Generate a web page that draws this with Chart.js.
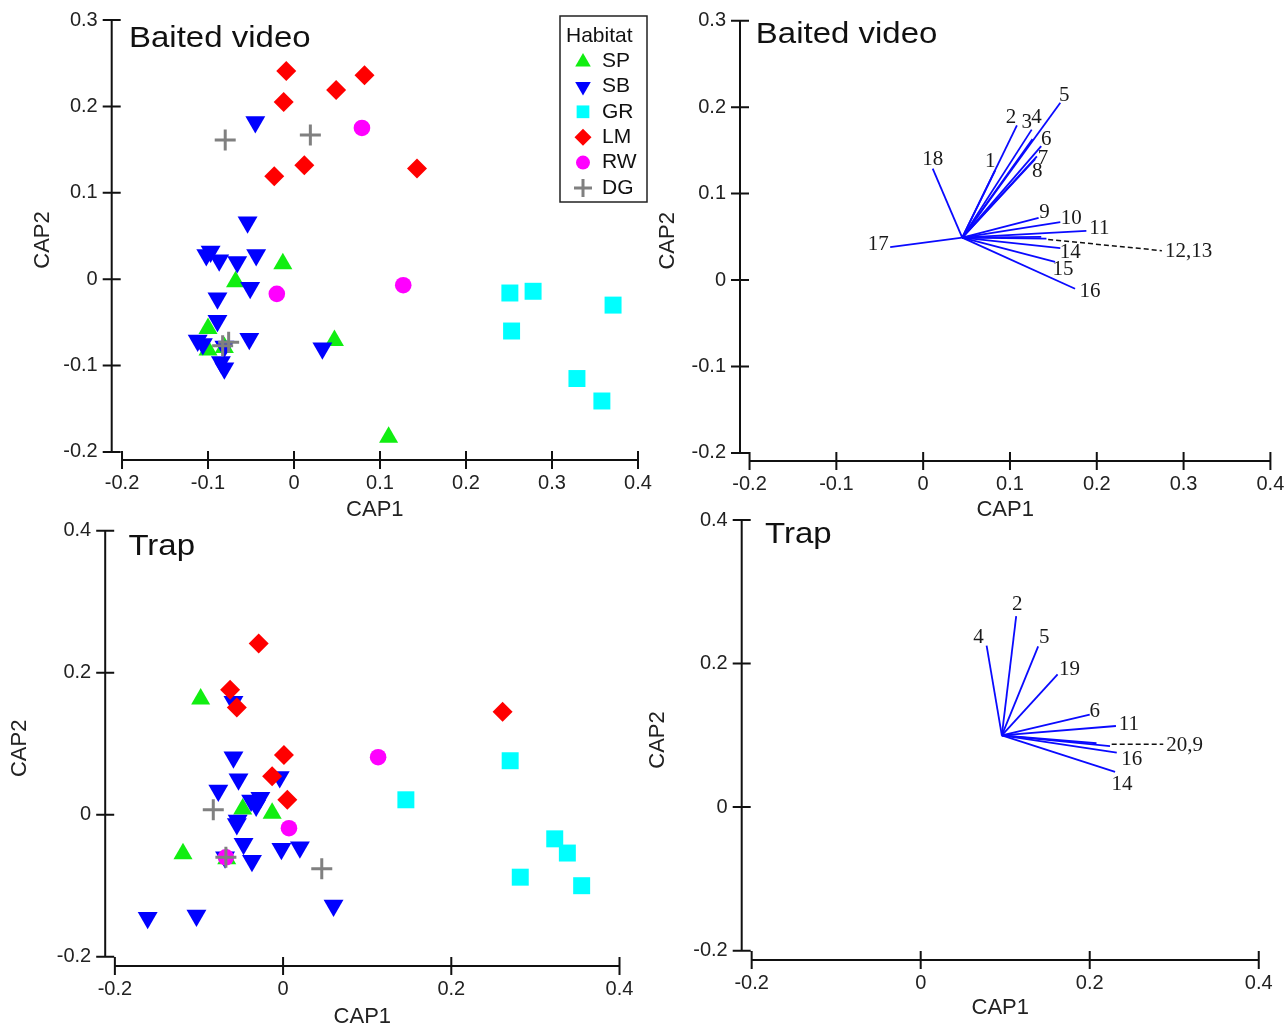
<!DOCTYPE html>
<html><head><meta charset="utf-8">
<script src="https://cdn.jsdelivr.net/npm/chart.js@4.4.1/dist/chart.umd.min.js"></script>
<style>
html,body{margin:0;padding:0;background:#fff;}
body{width:1288px;height:1027px;position:relative;overflow:hidden;}
canvas{position:absolute;}
</style></head><body>
<canvas id="c1"></canvas><canvas id="c2"></canvas><canvas id="c3"></canvas><canvas id="c4"></canvas>
<script>
// ---------------- DATA ----------------
const habitats = ['SP','SB','GR','LM','RW','DG'];

// Baited video – site scores (CAP1, CAP2)
const bvSP = [[-0.013,0.018],[-0.068,-0.003],[-0.100,-0.057],[-0.100,-0.082],[-0.081,-0.079],[0.047,-0.071],[0.110,-0.183]];
const bvSB = [[-0.045,0.182],[-0.054,0.066],[-0.097,0.032],[-0.102,0.028],[-0.087,0.022],[-0.066,0.020],[-0.044,0.028],[-0.051,-0.010],[-0.089,-0.022],[-0.089,-0.048],[-0.112,-0.071],[-0.106,-0.075],[-0.081,-0.078],[-0.052,-0.069],[0.033,-0.080],[-0.085,-0.096],[-0.081,-0.103]];
const bvGR = [[0.251,-0.016],[0.278,-0.014],[0.371,-0.030],[0.253,-0.060],[0.329,-0.115],[0.358,-0.141]];
const bvLM = [[-0.009,0.241],[0.082,0.236],[0.049,0.219],[-0.012,0.205],[0.012,0.132],[-0.023,0.119],[0.143,0.128]];
const bvRW = [[0.079,0.175],[0.127,-0.007],[-0.020,-0.017]];
const bvDG = [[-0.080,0.161],[0.019,0.167],[-0.083,-0.077],[-0.076,-0.073]];

// Trap – site scores
const trSP = [[-0.098,0.163],[-0.119,-0.055],[-0.013,0.002],[-0.048,0.008],[-0.067,-0.062]];
const trSB = [[-0.059,0.159],[-0.059,0.081],[-0.053,0.050],[-0.077,0.034],[-0.004,0.053],[-0.038,0.020],[-0.027,0.024],[-0.032,0.013],[-0.054,-0.008],[-0.055,-0.013],[-0.047,-0.041],[-0.037,-0.065],[-0.002,-0.048],[0.020,-0.046],[-0.069,-0.060],[0.060,-0.128],[-0.103,-0.142],[-0.161,-0.145]];
const trGR = [[0.270,0.076],[0.146,0.021],[0.323,-0.034],[0.338,-0.054],[0.282,-0.088],[0.355,-0.100]];
const trLM = [[-0.029,0.241],[-0.063,0.176],[-0.055,0.151],[0.001,0.084],[-0.013,0.054],[0.005,0.021],[0.261,0.145]];
const trRW = [[0.113,0.081],[0.007,-0.019],[-0.068,-0.060]];
const trDG = [[-0.083,0.007],[-0.068,-0.060],[0.046,-0.076]];

// Baited video – species vectors
const bvOrigin = [0.045,0.049];
const bvVecLabels = ['1','2','3','4','5','6','7','8','9','10','11','12','13','14','15','16','17','18'];
const bvVecEnds = [[0.083,0.127],[0.108,0.179],[0.125,0.174],[0.126,0.163],[0.158,0.205],[0.136,0.155],[0.131,0.143],[0.129,0.140],[0.133,0.072],[0.158,0.067],[0.188,0.057],[0.136,0.050],[0.142,0.048],[0.158,0.037],[0.152,0.021],[0.175,-0.010],[-0.038,0.038],[0.011,0.129]];
const bvLeaderLabel = '12,13';
const bvLeader = [[0.144,0.047],[0.275,0.034]];

// Trap – species vectors
const trOrigin = [0.096,0.100];
const trVecLabels = ['2','4','5','19','6','11','20','9','16','14'];
const trVecEnds = [[0.113,0.266],[0.078,0.225],[0.139,0.224],[0.162,0.185],[0.200,0.129],[0.231,0.113],[0.208,0.089],[0.224,0.085],[0.232,0.076],[0.230,0.049]];
const trLeaderLabel = '20,9';
const trLeader = [[0.226,0.0876],[0.287,0.0876]];

// Ticks
const xTicksBV = [-0.2,-0.1,0,0.1,0.2,0.3,0.4];
const xTickLabelsBV = ['-0.2','-0.1','0','0.1','0.2','0.3','0.4'];
const yTicksBV = [-0.2,-0.1,0,0.1,0.2,0.3];
const yTickLabelsBV = ['-0.2','-0.1','0','0.1','0.2','0.3'];
const xTicksTR = [-0.2,0,0.2,0.4];
const xTickLabelsTR = ['-0.2','0','0.2','0.4'];
const yTicksTR = [-0.2,0,0.2,0.4];
const yTickLabelsTR = ['-0.2','0','0.2','0.4'];

// ---------------- STYLE / LAYOUT ----------------
const SANS = '"Liberation Sans", Arial, sans-serif';
const SERIF = '"Liberation Serif", "Times New Roman", serif';
const STYLE = {
  SP:{ps:'triangle', r:11,  rot:0,   fill:'#11ee11'},
  SB:{ps:'triangle', r:11.5,rot:180, fill:'#0000ff'},
  GR:{ps:'rect',     r:12,  rot:0,   fill:'#00ffff'},
  LM:{ps:'rectRot',  r:10,  rot:0,   fill:'#ff0000'},
  RW:{ps:'circle',   r:8.3, rot:0,   fill:'#ff00ff'},
  DG:{ps:'cross',    r:10.5,rot:0,   fill:'#808080', bw:3}
};
const LEG_STYLE = {
  SP:{r:9}, SB:{r:9}, GR:{r:9}, LM:{r:8.5}, RW:{r:7}, DG:{r:9}
};
// label offsets (pixels from vector tip)
const bvLabelOff = [[-5,-9],[-6,-8],[-5,-7],[4,-22],[4,-7],[5,-7],[6,2],[2,12],[6,-5],[11,-4],[13,-2],null,null,[10,4],[8,8],[15,3],[-12,-3],[0,-9]];
const trLabelOff = [[1,-12],[-8,-8],[6,-9],[12,-5],[5,-3],[13,-2],null,null,[15,7],[7,13]];

function xy(p){return {x:p[0],y:p[1]};}

function pointDatasets(sets){
  // draw order: first dataset on top
  const order = ['DG','RW','LM','GR','SB','SP'];
  return order.map(h => {
    const s = STYLE[h];
    return {
      label:h, data: sets[h].map(xy), showLine:false, clip:false,
      pointStyle:s.ps, pointRadius:s.r, pointHoverRadius:s.r, pointRotation:s.rot,
      pointBackgroundColor:s.fill, pointBorderColor:s.fill, pointBorderWidth:s.bw||0
    };
  });
}
function vectorDatasets(origin, ends, leader){
  const ds = ends.map(e => ({
    data:[xy(origin), xy(e)], showLine:true, borderColor:'#0a0aff', borderWidth:1.8,
    pointRadius:0, pointHoverRadius:0, clip:false, fill:false
  }));
  ds.push({data:[xy(leader[0]), xy(leader[1])], showLine:true, borderColor:'#111', borderWidth:1.5,
    borderDash:[5,3], pointRadius:0, pointHoverRadius:0, clip:false, fill:false});
  return ds;
}

function drawPointShape(ctx, style, r, x, y){
  const opts = {pointStyle:style.ps, radius:r, rotation:style.rot, borderWidth:style.bw||0};
  ctx.save();
  ctx.fillStyle = style.fill; ctx.strokeStyle = style.fill; ctx.lineWidth = style.bw||1;
  Chart.helpers.drawPoint(ctx, opts, x, y);
  ctx.restore();
}

function makePanelPlugin(cfg){
  return {
    id:'panel'+cfg.id,
    afterDraw(chart){
      const {ctx, chartArea:a, scales} = chart;
      const xs = scales.x, ys = scales.y;
      ctx.save();
      // axes
      ctx.strokeStyle = '#111'; ctx.lineWidth = 2; ctx.lineCap='butt';
      const yT = cfg.yTicks, xT = cfg.xTicks;
      ctx.beginPath();
      ctx.moveTo(a.left, ys.getPixelForValue(yT[yT.length-1]));
      ctx.lineTo(a.left, ys.getPixelForValue(yT[0]));
      yT.forEach(v => { const p = ys.getPixelForValue(v); ctx.moveTo(a.left-9, p); ctx.lineTo(a.left+9, p); });
      ctx.moveTo(xs.getPixelForValue(xT[0]), a.bottom);
      ctx.lineTo(xs.getPixelForValue(xT[xT.length-1]), a.bottom);
      xT.forEach(v => { const p = xs.getPixelForValue(v); ctx.moveTo(p, a.bottom-9); ctx.lineTo(p, a.bottom+9); });
      ctx.stroke();
      // panel title
      ctx.fillStyle = '#111';
      ctx.font = '30px ' + SANS;
      ctx.textBaseline = 'alphabetic'; ctx.textAlign = 'left';
      ctx.save();
      ctx.translate(a.left + cfg.titleOff[0], a.top + cfg.titleOff[1]);
      ctx.scale(1.1, 1);
      ctx.fillText(cfg.title, 0, 0);
      ctx.restore();
      // vector labels
      if (cfg.vec) {
        ctx.font = '21px ' + SERIF; ctx.fillStyle = '#1a1a1a';
        ctx.textBaseline = 'middle';
        cfg.vec.labels.forEach((lab, i) => {
          const off = cfg.vec.off[i]; if (!off) return;
          const e = cfg.vec.ends[i];
          ctx.textAlign = 'center';
          ctx.fillText(lab, xs.getPixelForValue(e[0]) + off[0], ys.getPixelForValue(e[1]) + off[1]);
        });
        const le = cfg.vec.leader[1];
        ctx.textAlign = 'left';
        ctx.fillText(cfg.vec.leaderLabel, xs.getPixelForValue(le[0]) + 3, ys.getPixelForValue(le[1]) + 1);
      }
      // legend
      if (cfg.legend) {
        const L = cfg.legend; // canvas coords
        ctx.strokeStyle = '#222'; ctx.lineWidth = 1.5;
        ctx.strokeRect(L.x, L.y, L.w, L.h);
        ctx.fillStyle = '#111'; ctx.font = '21px ' + SANS;
        ctx.textAlign = 'left'; ctx.textBaseline = 'middle';
        ctx.fillText('Habitat', L.x + 6, L.y + 20);
        habitats.forEach((h, i) => {
          const cy = L.y + 45 + i * 25.4;
          drawPointShape(ctx, STYLE[h], LEG_STYLE[h].r, L.x + 23, cy + (h==='SP'?1:0));
          ctx.fillStyle = '#111';
          ctx.fillText(h, L.x + 42, cy);
        });
      }
      ctx.restore();
    }
  };
}

function scaleCfg(axis, min, max, ticks, labels, fitSize, titlePad){
  return {
    type:'linear', min, max, position: axis==='x' ? 'bottom' : 'left',
    afterBuildTicks: s => { s.ticks = ticks.map(v => ({value:v})); },
    afterFit: s => { if (axis==='x') s.height = fitSize; else s.width = fitSize; },
    grid: {display:true, drawOnChartArea:false, drawTicks:true, tickLength:9, color:'rgba(0,0,0,0)'},
    border: {display:false},
    ticks: {autoSkip:false, maxRotation:0, minRotation:0, padding: axis==='x' ? 2 : 5,
      color:'#222', font:{family:SANS, size:20},
      callback: (v, i) => labels[i]},
    title: {display:true, text: axis==='x' ? 'CAP1' : 'CAP2', color:'#222',
      font:{family:SANS, size:22}, padding: axis==='x' ? {top:0,bottom:0} : {top:titlePad, bottom:0}}
  };
}

function makePanel(id, canvas, area, range, ticks, datasets, extra){
  const el = document.getElementById(id);
  el.width = canvas.w; el.height = canvas.h;
  el.style.left = canvas.left + 'px'; el.style.top = canvas.top + 'px';
  el.style.width = canvas.w + 'px'; el.style.height = canvas.h + 'px';
  const padTop = area.T - canvas.top;
  const padRight = canvas.left + canvas.w - area.R;
  const yWidth = area.L - canvas.left;
  const xHeight = canvas.top + canvas.h - area.B;
  const cfg = Object.assign({id, xTicks:ticks.x, yTicks:ticks.y}, extra);
  if (cfg.legend) { cfg.legend = Object.assign({}, cfg.legend, {x:cfg.legend.x - canvas.left, y:cfg.legend.y - canvas.top}); }
  return new Chart(el, {
    type:'scatter',
    data:{datasets},
    options:{
      responsive:false, animation:false, events:[], devicePixelRatio:1,
      layout:{padding:{left:0, top:padTop, right:padRight, bottom:0}},
      plugins:{legend:{display:false}, tooltip:{enabled:false}, title:{display:false}},
      scales:{
        x: scaleCfg('x', range.xmin, range.xmax, ticks.x, ticks.xl, xHeight, 0),
        y: scaleCfg('y', range.ymin, range.ymax, ticks.y, ticks.yl, yWidth, extra.yTitlePad)
      }
    },
    plugins:[makePanelPlugin(cfg)]
  });
}

Chart.defaults.font.family = SANS;

// Panel 1: Baited video sites
makePanel('c1', {left:0, top:0, w:660, h:523}, {L:111.7, T:20, R:638, B:460},
  {xmin:-0.212, xmax:0.4, ymin:-0.2093, ymax:0.3},
  {x:xTicksBV, xl:xTickLabelsBV, y:yTicksBV, yl:yTickLabelsBV},
  pointDatasets({SP:bvSP, SB:bvSB, GR:bvGR, LM:bvLM, RW:bvRW, DG:bvDG}),
  {title:'Baited video', titleOff:[17.3,27], yTitlePad:29.8, legend:{x:560, y:16, w:87, h:186}});

// Panel 2: Baited video vectors
makePanel('c2', {left:640, top:0, w:648, h:523}, {L:740, T:20.7, R:1270.4, B:461},
  {xmin:-0.211, xmax:0.4, ymin:-0.2093, ymax:0.3},
  {x:xTicksBV, xl:xTickLabelsBV, y:yTicksBV, yl:yTickLabelsBV},
  vectorDatasets(bvOrigin, bvVecEnds, bvLeader),
  {title:'Baited video', titleOff:[15.8,22.3], yTitlePad:14.8,
   vec:{labels:bvVecLabels, ends:bvVecEnds, off:bvLabelOff, leader:bvLeader, leaderLabel:bvLeaderLabel}});

// Panel 3: Trap sites
makePanel('c3', {left:0, top:500, w:660, h:530}, {L:105.2, T:530.7, R:619.5, B:966},
  {xmin:-0.2115, xmax:0.4, ymin:-0.2131, ymax:0.4},
  {x:xTicksTR, xl:xTickLabelsTR, y:yTicksTR, yl:yTickLabelsTR},
  pointDatasets({SP:trSP, SB:trSB, GR:trGR, LM:trLM, RW:trRW, DG:trDG}),
  {title:'Trap', titleOff:[23.2,24.3], yTitlePad:6.8});

// Panel 4: Trap vectors
makePanel('c4', {left:640, top:500, w:648, h:521}, {L:741.7, T:520, R:1258.75, B:960},
  {xmin:-0.2118, xmax:0.4, ymin:-0.213, ymax:0.4},
  {x:xTicksTR, xl:xTickLabelsTR, y:yTicksTR, yl:yTickLabelsTR},
  vectorDatasets(trOrigin, trVecEnds, trLeader),
  {title:'Trap', titleOff:[23.3,23.3], yTitlePad:4.3,
   vec:{labels:trVecLabels, ends:trVecEnds, off:trLabelOff, leader:trLeader, leaderLabel:trLeaderLabel}});
</script>
</body></html>
